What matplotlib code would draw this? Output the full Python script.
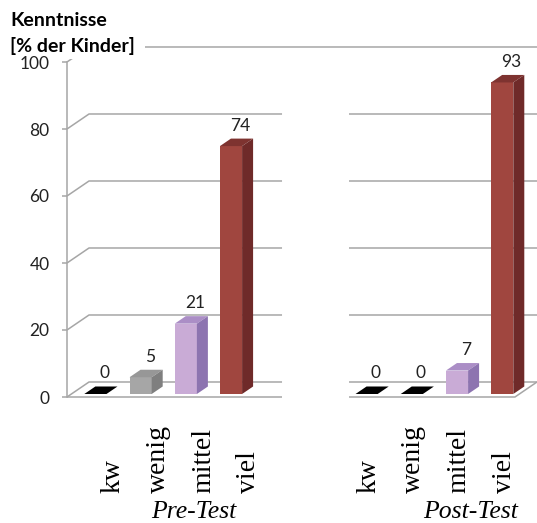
import numpy as np
import matplotlib.pyplot as plt
from matplotlib.patches import Rectangle

# Kenntnisse der Kinder vor und nach dem Test (in %)
categories = ['kw', 'wenig', 'mittel', 'viel']
pre_test = [0, 5, 21, 74]
post_test = [0, 0, 7, 93]
groups = ['Pre-Test', 'Post-Test']
yticks = [0, 20, 40, 60, 80, 100]

# Farben: Vorderseite, Oberseite, Seitenfläche
front = ['#000000', '#a6a6a6', '#c9abd6', '#a0463f']
top = ['#000000', '#979797', '#ab8ec6', '#7e3330']
side = ['#000000', '#7f7f7f', '#8d74b0', '#6f2a29']
grid_col = '#a6a6a6'

W, H = 537, 523
plt.rcParams['font.family'] = ['Lato', 'DejaVu Sans']
fig = plt.figure(figsize=(W / 100, H / 100), dpi=100)


def px_box(l, t, r, b):
    return [l / W, (H - b) / H, (r - l) / W, (b - t) / H]


ax = fig.add_axes(px_box(67, 62, 537, 397))
ax.patch.set_visible(False)
xmin, xmax = -0.531, 9.867
ax.set_xlim(xmin, xmax)
ax.set_ylim(0, 100)

# Tiefe der Rückwand und der Säulen (Datenkoordinaten)
DX, DY = 0.487, 4.48
fx, fy = 0.2 * DX, 0.2 * DY
bx, by = 0.5 * DX, 0.5 * DY
w = 0.49
split_l, split_r = 4.226, 5.708

line_kw = dict(color=grid_col, lw=1.1, clip_on=False, zorder=1, solid_capstyle='butt')
for v in yticks:
    if v == 100:
        ax.plot([xmin, xmin + DX, xmax + 1], [v, v + DY, v + DY], **line_kw)
        continue
    ax.plot([xmin, xmin + DX, split_l], [v, v + DY, v + DY], **line_kw)
    ax.plot([split_r, xmax + 1], [v + DY, v + DY], **line_kw)
# Boden vorne
ax.plot([xmin, split_l], [0, 0], **line_kw)
ax.plot([split_r, xmax - DX, xmax], [0, 0, DY], **line_kw)

for s in ['top', 'right', 'bottom']:
    ax.spines[s].set_visible(False)
ax.spines['left'].set_color(grid_col)
ax.spines['left'].set_linewidth(1.1)
ax.set_xticks([])
ax.set_yticks(yticks)
ax.tick_params(axis='y', direction='out', length=3.6, width=1.1, color=grid_col,
               labelsize=12.5, pad=9, labelcolor='#222222')

positions = [np.arange(4), np.arange(4) + 6]
label_shift = [0.49, 0.14]
group_x = [2.28, 8.39]

for pos, vals, shift, gname, gx in zip(positions, [pre_test, post_test], label_shift, groups, group_x):
    ax.bar(pos + fx, vals, width=w, bottom=fy, color=front, edgecolor='none', zorder=3)
    for c, v, ct, cs in zip(pos, vals, top, side):
        x0, x1 = c + fx - w / 2, c + fx + w / 2
        yb, yt = fy, fy + v
        # leere Säulen erscheinen als schwarze Bodenfläche
        ax.fill([x0, x1, x1 + bx, x0 + bx], [yt, yt, yt + by, yt + by],
                color=ct if v > 0 else '#000000', lw=0, zorder=4)
        if v > 0:
            ax.fill([x1, x1 + bx, x1 + bx, x1], [yb, yb + by, yt + by, yt],
                    color=cs, lw=0, zorder=4)
        ax.annotate(f'{v}', xy=(c + fx + bx / 2, yt + by), xytext=(2.5, 3.6),
                    textcoords='offset points', ha='center', va='bottom',
                    fontsize=12.5, color='#222222', zorder=5)
    for c, name in zip(pos, categories):
        ax.text(c + shift, -0.2866, name, transform=ax.get_xaxis_transform(),
                rotation=90, ha='center', va='bottom', fontsize=20,
                family='Liberation Serif', color='black')
    ax.text(gx, -0.361, gname, transform=ax.get_xaxis_transform(),
            ha='center', va='baseline', fontsize=18.5, style='italic',
            family='Liberation Serif', color='black')

# Titel mit weißem Hintergrund über den Gitterlinien
fig.add_artist(Rectangle((55 / W, 1 - 58.5 / H), (145 - 55) / W, 58.5 / H,
                         transform=fig.transFigure, facecolor='white',
                         edgecolor='none', zorder=2))
fig.text(10 / W, 1 - 26 / H, 'Kenntnisse', fontsize=14, fontweight='bold',
         va='baseline', ha='left', zorder=3)
fig.text(10 / W, 1 - 52 / H, '[% der Kinder]', fontsize=14, fontweight='bold',
         va='baseline', ha='left', zorder=3)

fig.savefig('out.png', dpi=100, facecolor='white')
